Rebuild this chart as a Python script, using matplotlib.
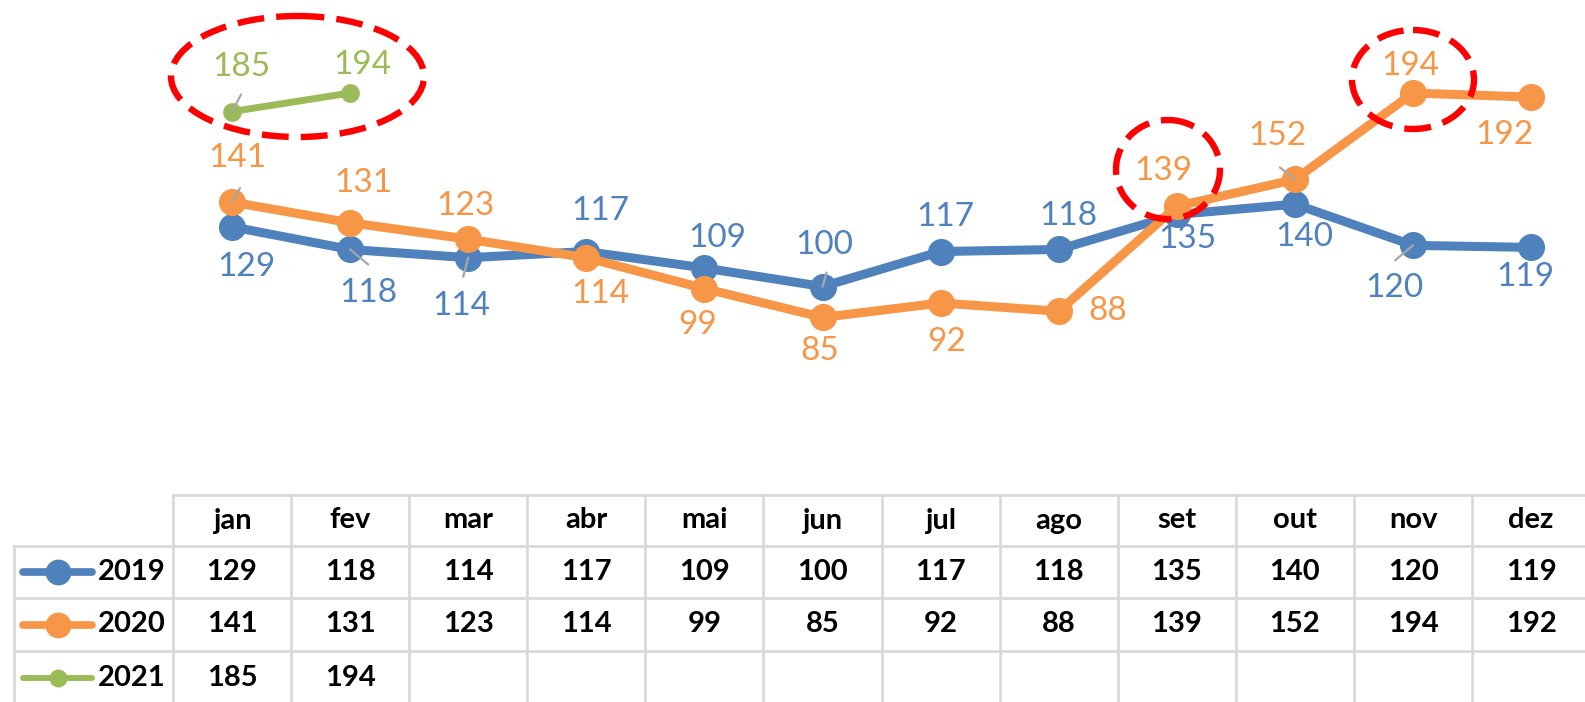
import matplotlib
matplotlib.use("Agg")
import matplotlib.pyplot as plt
from matplotlib.patches import Ellipse

# ---------------- data ----------------
months = ["jan", "fev", "mar", "abr", "mai", "jun", "jul", "ago", "set", "out", "nov", "dez"]
series_names = ["2019", "2020", "2021"]
v2019 = [129, 118, 114, 117, 109, 100, 117, 118, 135, 140, 120, 119]
v2020 = [141, 131, 123, 114, 99, 85, 92, 88, 139, 152, 194, 192]
v2021 = [185, 194]

# ---------------- styles ----------------
colors = ["#4F81BD", "#F79646", "#9BBB59"]
line_w = [6.5, 6.5, 5.0]
mark_s = [18.5, 18.5, 12.5]
# label offsets in pixels (dx right, dy down) relative to the marker
label_off = [
    [(14, 40), (18, 44), (-7, 48), (14, -41), (13, -30), (2, -42), (5, -35), (10, -33),
     (11, 25), (9, 33), (-19, 43), (-6, 30)],
    [(5, -44), (13, -40), (-3, -33), (14, 36), (-7, 36), (-3, 34), (6, 39), (49, 0),
     (-13, -35), (-18, -43), (-3, -27), (-27, 38)],
    [(9, -45), (12, -28)],
]
# leader lines (series, index) -> end offset in pixels (dx right, dy up)
leaders = {(0, 1): (18, -15), (0, 2): (-5, -19), (0, 5): (4, 14), (0, 10): (-18, -15),
           (1, 0): (8, 14), (1, 9): (-15, 12), (2, 0): (9, 17)}

W, H = 1585, 702
fig = plt.figure(figsize=(W / 100, H / 100), dpi=100)
fig.patch.set_facecolor("white")

LEFT = 173
COLW = 118.1
TOP_TABLE = 495
Y0 = 492.4
PPU = 2.0587

ax = fig.add_axes([LEFT / W, (H - Y0) / H, 12 * COLW / W, 200 * PPU / H])
ax.set_xlim(0, 12)
ax.set_ylim(0, 200)
ax.axis("off")

all_vals = [v2019, v2020, v2021]
for s, vals in enumerate(all_vals):
    xs = [i + 0.5 for i in range(len(vals))]
    ax.plot(xs, vals, color=colors[s], lw=line_w[s], marker="o", ms=mark_s[s],
            solid_joinstyle="round", solid_capstyle="round", clip_on=False, zorder=2 + s)
for s, vals in enumerate(all_vals):
    for i, v in enumerate(vals):
        dx, dy = label_off[s][i]
        ax.annotate(str(v), xy=(i + 0.5, v), xytext=(dx, -dy), textcoords="offset pixels",
                    ha="center", va="center", fontsize=24, family="Lato",
                    color=colors[s], zorder=10, annotation_clip=False)
        if (s, i) in leaders:
            lx, ly = leaders[(s, i)]
            ax.annotate("", xy=(i + 0.5, v), xytext=(lx, ly), textcoords="offset pixels",
                        arrowprops=dict(arrowstyle="-", color="#A6A6A6", lw=1.6,
                                        shrinkA=0, shrinkB=0), zorder=9,
                        annotation_clip=False)

# ---------------- data table ----------------
tax = fig.add_axes([LEFT / W, 0, 12 * COLW / W, (H - TOP_TABLE) / H])
tax.set_xlim(0, 12)
tax.set_ylim(H, TOP_TABLE)
tax.axis("off")


def xp(p):
    return (p - LEFT) / COLW


grid_c = "#D9D9D9"
glw = 2.0
row_tops = [495, 546, 598, 651, 704]
xl = xp(14)
tax.plot([0, 12.2], [row_tops[0]] * 2, color=grid_c, lw=glw, clip_on=False)
for r in row_tops[1:4]:
    tax.plot([xl, 12.2], [r, r], color=grid_c, lw=glw, clip_on=False)
for i in range(13):
    tax.plot([i, i], [row_tops[0], H + 5], color=grid_c, lw=glw, clip_on=False)
tax.plot([xl, xl], [row_tops[1], H + 5], color=grid_c, lw=glw, clip_on=False)

hdr_y = (row_tops[0] + row_tops[1]) / 2
for i, m in enumerate(months):
    tax.text(i + 0.5, hdr_y, m, ha="center", va="center", fontsize=21,
             family="Lato", fontweight="bold", color="black")
for s, vals in enumerate(all_vals):
    yc = (row_tops[s + 1] + row_tops[s + 2]) / 2
    for i, v in enumerate(vals):
        tax.text(i + 0.5, yc, str(v), ha="center", va="center", fontsize=21,
                 family="Lato", fontweight="bold", color="black")
    tax.plot([xp(23), xp(92)], [yc, yc], color=colors[s], lw=line_w[s] * 0.85,
             solid_capstyle="round", clip_on=False)
    tax.plot([xp(58)], [yc], marker="o", ms=mark_s[s] * 0.95, color=colors[s], clip_on=False)
    tax.text(xp(166), yc, series_names[s], ha="right", va="center", fontsize=21,
             family="Lato", fontweight="bold", color="black")

# ---------------- red dashed highlight ellipses ----------------
oax = fig.add_axes([0, 0, 1, 1])
oax.set_xlim(0, W)
oax.set_ylim(H, 0)
oax.axis("off")
oax.patch.set_alpha(0)
for (cx, cy, ew, eh) in [(297.5, 76.5, 253, 121), (1168, 169.5, 104, 99), (1413, 79.5, 122, 99)]:
    oax.add_patch(Ellipse((cx, cy), ew, eh, fill=False, edgecolor="#FF0000", lw=4.6,
                          linestyle=(0, (4.2, 1.9))))

fig.savefig("out.png", dpi=100, facecolor="white")
